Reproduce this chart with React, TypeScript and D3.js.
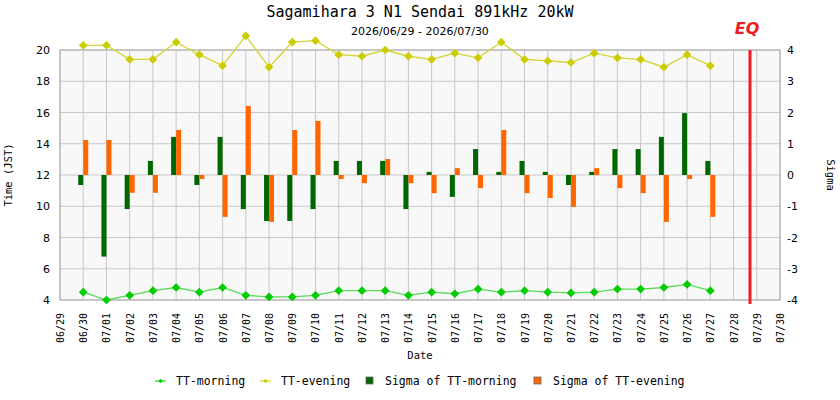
import * as d3 from 'd3';

// 日付 (06/30 - 07/27)
const dates = [
  '06/30', '07/01', '07/02', '07/03', '07/04', '07/05', '07/06', '07/07', '07/08', '07/09',
  '07/10', '07/11', '07/12', '07/13', '07/14', '07/15', '07/16', '07/17', '07/18', '07/19',
  '07/20', '07/21', '07/22', '07/23', '07/24', '07/25', '07/26', '07/27',
];

const ttMorning = [
  4.5, 4.0, 4.3, 4.6, 4.8, 4.5, 4.8, 4.3, 4.2, 4.2,
  4.3, 4.6, 4.6, 4.6, 4.3, 4.5, 4.4, 4.7, 4.5, 4.6,
  4.5, 4.45, 4.5, 4.7, 4.7, 4.8, 5.0, 4.6,
];

const ttEvening = [
  20.3, 20.3, 19.4, 19.4, 20.5, 19.7, 19.0, 20.9, 18.9, 20.5,
  20.6, 19.7, 19.6, 20.0, 19.6, 19.4, 19.8, 19.5, 20.5, 19.4,
  19.3, 19.2, 19.8, 19.5, 19.4, 18.9, 19.7, 19.0,
];

const sigmaMorning = [
  -0.32, -2.61, -1.09, 0.45, 1.22, -0.32, 1.22, -1.09, -1.47, -1.47,
  -1.09, 0.45, 0.45, 0.45, -1.09, 0.1, -0.7, 0.83, 0.1, 0.45,
  0.1, -0.32, 0.1, 0.83, 0.83, 1.22, 1.98, 0.45,
];

const sigmaEvening = [
  1.12, 1.12, -0.57, -0.57, 1.44, -0.13, -1.34, 2.21, -1.5, 1.44,
  1.73, -0.13, -0.26, 0.51, -0.26, -0.58, 0.22, -0.42, 1.44, -0.58,
  -0.74, -1.02, 0.22, -0.42, -0.58, -1.5, -0.13, -1.34,
];

const leftTicks = [4, 6, 8, 10, 12, 14, 16, 18, 20];
const rightTicks = [-4, -3, -2, -1, 0, 1, 2, 3, 4];
const eqTime = '2026-07-28T17:00:00Z';

const W = 840;
const H = 400;
const margin = { top: 50, right: 60, bottom: 100, left: 60 };

const mono = '"DejaVu Sans Mono", monospace';
const sans = '"DejaVu Sans", sans-serif';

const parse = (s: string) => new Date(`2026-${s.replace('/', '-')}T00:00:00Z`);

export default function App() {
  const x = d3
    .scaleUtc()
    .domain([new Date('2026-06-29T00:00:00Z'), new Date('2026-07-30T00:00:00Z')])
    .range([margin.left, W - margin.right]);
  const yL = d3.scaleLinear().domain([4, 20]).range([H - margin.bottom, margin.top]);
  const yR = d3.scaleLinear().domain([-4, 4]).range([H - margin.bottom, margin.top]);

  const days = d3.utcDay.range(x.domain()[0], d3.utcDay.offset(x.domain()[1], 1));
  const fmt = d3.utcFormat('%m/%d');

  const lineM = d3
    .line<number>()
    .x((_, i) => x(parse(dates[i])))
    .y((d) => yL(d));

  const diamond = d3.symbol().type(d3.symbolSquare).size(38)();
  const smallDiamond = d3.symbol().type(d3.symbolSquare).size(10)();

  const barW = 5;
  const [x0, x1] = x.range();
  const [yb, yt] = yL.range();
  const eqX = x(new Date(eqTime));

  const legend = [
    { label: 'TT-morning', kind: 'line', color: '#00cc00', x: 155 },
    { label: 'TT-evening', kind: 'line', color: '#cccc00', x: 260 },
    { label: 'Sigma of TT-morning', kind: 'box', color: '#006600', x: 366 },
    { label: 'Sigma of TT-evening', kind: 'box', color: '#ff6600', x: 534 },
  ];

  return (
    <svg width={W} height={H} style={{ display: 'block', position: 'absolute', left: 0, top: 0 }}>
      <rect width={W} height={H} fill="#fff" />
      <text x={W / 2} y={17} textAnchor="middle" fontFamily={mono} fontSize={15}>
        Sagamihara 3 N1 Sendai 891kHz 20kW
      </text>
      <text x={W / 2} y={35} textAnchor="middle" fontFamily={sans} fontSize={11}>
        2026/06/29 - 2026/07/30
      </text>

      {/* plot area */}
      <rect x={x0} y={yt} width={x1 - x0} height={yb - yt} fill="#f8f8f8" />
      {leftTicks.map((t) => (
        <line key={`h${t}`} x1={x0} x2={x1} y1={yL(t)} y2={yL(t)} stroke="#c8c8c8" />
      ))}
      {days.map((d) => (
        <line key={`v${+d}`} x1={x(d)} x2={x(d)} y1={yt} y2={yb} stroke="#c8c8c8" />
      ))}
      <rect x={x0} y={yt} width={x1 - x0} height={yb - yt} fill="none" stroke="#aaa" />

      {/* sigma bars */}
      {dates.map((d, i) => {
        const cx = x(parse(d));
        const m = sigmaMorning[i];
        const e = sigmaEvening[i];
        return (
          <g key={`b${d}`}>
            <rect
              x={cx - barW}
              width={barW}
              y={Math.min(yR(0), yR(m))}
              height={Math.abs(yR(m) - yR(0))}
              fill="#006600"
            />
            <rect
              x={cx}
              width={barW}
              y={Math.min(yR(0), yR(e))}
              height={Math.abs(yR(e) - yR(0))}
              fill="#ff6600"
            />
          </g>
        );
      })}

      {/* TT lines */}
      <path d={lineM(ttMorning) ?? ''} fill="none" stroke="#55dd55" strokeWidth={1.3} />
      <path d={lineM(ttEvening) ?? ''} fill="none" stroke="#d4d433" strokeWidth={1.3} />
      {dates.map((d, i) => (
        <g key={`p${d}`}>
          <path
            d={diamond ?? ''}
            transform={`translate(${x(parse(d))},${yL(ttMorning[i])}) rotate(45)`}
            fill="#00cc00"
          />
          <path
            d={diamond ?? ''}
            transform={`translate(${x(parse(d))},${yL(ttEvening[i])}) rotate(45)`}
            fill="#cccc00"
          />
        </g>
      ))}

      {/* EQ */}
      <line x1={eqX} x2={eqX} y1={yt} y2={yb + 4} stroke="#ee1c25" strokeWidth={3} />
      <text
        x={eqX - 3}
        y={34}
        textAnchor="middle"
        fontFamily={sans}
        fontSize={16}
        fontWeight="bold"
        fontStyle="italic"
        fill="#ee1c25"
      >
        EQ
      </text>

      {/* left axis */}
      {leftTicks.map((t) => (
        <text key={`l${t}`} x={50} y={yL(t) + 4} textAnchor="end" fontFamily={sans} fontSize={11}>
          {t}
        </text>
      ))}
      <text
        transform={`translate(12,${(yt + yb) / 2}) rotate(-90)`}
        textAnchor="middle"
        fontFamily={mono}
        fontSize={10.5}
      >
        Time (JST)
      </text>

      {/* right axis */}
      {rightTicks.map((t) => (
        <text key={`r${t}`} x={787} y={yR(t) + 4} fontFamily={sans} fontSize={11}>
          {t}
        </text>
      ))}
      <text
        transform={`translate(827,${(yt + yb) / 2}) rotate(90)`}
        textAnchor="middle"
        fontFamily={mono}
        fontSize={10.5}
      >
        Sigma
      </text>

      {/* x axis */}
      {days.map((d) => (
        <text
          key={`x${+d}`}
          transform={`translate(${x(d) + 4},${yb + 13}) rotate(-90)`}
          textAnchor="end"
          fontFamily={mono}
          fontSize={10}
        >
          {fmt(d)}
        </text>
      ))}
      <text x={W / 2} y={359} textAnchor="middle" fontFamily={mono} fontSize={10.5}>
        Date
      </text>

      {/* legend */}
      {legend.map((l) => (
        <g key={l.label} transform={`translate(${l.x},381)`}>
          {l.kind === 'line' ? (
            <>
              <line x1={0} x2={11} y1={0} y2={0} stroke={l.color} />
              <path d={smallDiamond ?? ''} transform="translate(5.5,0) rotate(45)" fill={l.color} />
            </>
          ) : (
            <rect x={0} y={-4} width={7} height={7} fill={l.color} stroke="#666" strokeWidth={0.8} />
          )}
          <text x={l.kind === 'line' ? 21 : 19} y={4} fontFamily={mono} fontSize={11.5}>
            {l.label}
          </text>
        </g>
      ))}
    </svg>
  );
}
